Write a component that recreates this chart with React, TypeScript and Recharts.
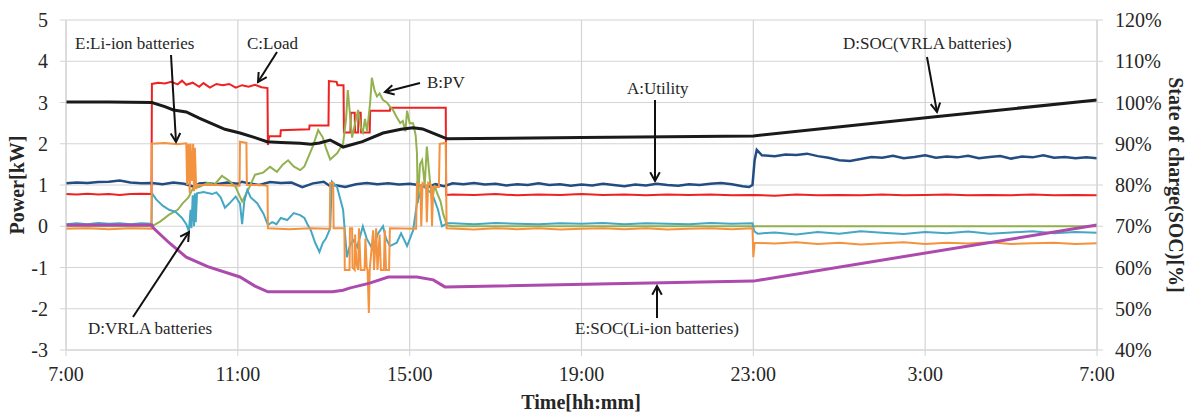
import { CartesianGrid, Line, LineChart, XAxis, YAxis } from "recharts";

// hours after 7:00
const hourTicks = [0, 4, 8, 12, 16, 20, 24];
const hourLabels = ["7:00", "11:00", "15:00", "19:00", "23:00", "3:00", "7:00"];
const powerTicks = [-3, -2, -1, 0, 1, 2, 3, 4, 5];
const socTicks = [40, 50, 60, 70, 80, 90, 100, 110, 120];

// A: Utility [kW]
const utility: [number, number][] = [
  [0, 1.04], [0.25, 1.06], [0.5, 1.05], [0.75, 1.07], [1, 1.08], [1.25, 1.11], [1.5, 1.06], [1.75, 1.04],
  [2, 1.05], [2.25, 1.02], [2.5, 1.06], [2.75, 1.03], [3, 0.95], [3.1, 1.04], [3.25, 1.05], [3.5, 1.02],
  [3.75, 1.06], [4, 1.03], [4.1, 1.08], [4.25, 1.04], [4.5, 1.0], [4.75, 1.07], [5, 1.05], [5.25, 1.06],
  [5.5, 0.95], [5.75, 1.04], [6, 1.08], [6.15, 0.97], [6.25, 1.0], [6.5, 0.95], [6.75, 1.02], [7, 1.05],
  [7.25, 1.02], [7.5, 1.04], [7.75, 1.01], [8, 1.03], [8.2, 1.0], [8.4, 0.94], [8.6, 1.02], [8.8, 0.97],
  [9, 1.04], [9.25, 1.02], [9.5, 1.05], [9.75, 1.01], [10, 1.03], [10.25, 0.99], [10.5, 1.02], [10.75, 1.0],
  [11, 1.04], [11.25, 1.0], [11.5, 1.02], [11.75, 0.98], [12, 1.01], [12.25, 0.99], [12.5, 1.03], [12.75, 1.0],
  [13, 0.97], [13.25, 1.01], [13.5, 0.99], [13.75, 1.03], [14, 1.0], [14.25, 0.98], [14.5, 1.02], [14.75, 1.0],
  [15, 1.03], [15.25, 1.05], [15.5, 1.02], [15.75, 0.97], [15.9, 0.95], [15.98, 1.0], [16.03, 1.6], [16.08, 1.85],
  [16.2, 1.72], [16.5, 1.7], [16.75, 1.74], [17, 1.73], [17.25, 1.76], [17.5, 1.7], [17.75, 1.66], [18, 1.6],
  [18.25, 1.58], [18.5, 1.63], [18.75, 1.68], [19, 1.66], [19.25, 1.71], [19.5, 1.65], [19.75, 1.68], [20, 1.72],
  [20.25, 1.66], [20.5, 1.69], [20.75, 1.67], [21, 1.71], [21.25, 1.65], [21.5, 1.68], [21.75, 1.7], [22, 1.64],
  [22.25, 1.69], [22.5, 1.67], [22.75, 1.72], [23, 1.66], [23.25, 1.68], [23.5, 1.65], [23.75, 1.67], [24, 1.65],
];

// B: PV [kW]
const pv: [number, number][] = [
  [0, 0], [2, 0], [2.2, 0.12], [2.4, 0.28], [2.6, 0.4], [2.72, 0.56], [2.85, 0.7], [2.96, 0.93],
  [3.1, 0.95], [3.3, 1.05], [3.45, 1.0], [3.63, 1.22], [3.8, 1.1], [3.95, 0.95], [4.1, 0.6], [4.25, 0.9],
  [4.4, 1.25], [4.59, 1.3], [4.75, 1.44], [4.91, 1.32], [5.05, 1.5], [5.17, 1.6], [5.3, 1.45], [5.45, 1.36],
  [5.55, 1.45], [5.65, 1.7], [5.75, 1.95], [5.87, 2.33], [5.98, 2.15], [6.05, 1.9], [6.15, 1.62], [6.31, 1.77],
  [6.45, 2.0], [6.52, 2.6], [6.56, 3.3], [6.62, 2.6], [6.66, 2.15], [6.73, 2.5], [6.8, 2.82], [6.86, 2.4],
  [6.91, 2.28], [6.96, 2.6], [7.01, 2.3], [7.08, 3.0], [7.12, 3.6], [7.18, 3.3], [7.24, 3.15], [7.3, 3.22],
  [7.38, 3.06], [7.47, 3.0], [7.54, 2.9], [7.61, 2.82], [7.7, 2.64], [7.78, 2.5], [7.84, 2.55], [7.9, 2.3],
  [7.94, 2.8], [8.0, 2.5], [8.08, 2.5], [8.14, 2.2], [8.17, 1.77], [8.19, 0.56], [8.24, 1.5], [8.29, 1.6],
  [8.35, 1.0], [8.4, 1.93], [8.47, 1.12], [8.52, 0.6], [8.58, 1.0], [8.64, 0.8], [8.72, 0.6], [8.78, 0.3],
  [8.87, 0.02], [9, 0], [24, 0],
];

// C: Load [kW]
const load: [number, number][] = [
  [0, 0.78], [0.25, 0.77], [0.5, 0.79], [0.75, 0.77], [1, 0.78], [1.25, 0.76], [1.5, 0.78], [1.75, 0.79],
  [1.99, 0.78], [2, 3.45], [2.15, 3.48], [2.3, 3.46], [2.45, 3.5], [2.6, 3.44], [2.7, 3.53], [2.8, 3.43],
  [2.95, 3.48], [3.1, 3.38], [3.2, 3.47], [3.35, 3.36], [3.5, 3.45], [3.65, 3.42], [3.8, 3.45], [3.95, 3.36],
  [4.1, 3.42], [4.25, 3.38], [4.4, 3.43], [4.55, 3.37], [4.69, 3.35], [4.7, 1.97], [4.73, 2.18], [4.99, 2.18],
  [5, 2.33], [5.66, 2.35], [5.67, 2.44], [6.11, 2.44], [6.12, 3.52], [6.3, 3.5], [6.32, 3.42], [6.46, 3.42],
  [6.47, 2.27], [6.62, 2.27], [6.63, 2.75], [6.72, 2.75], [6.73, 2.27], [6.8, 2.27], [6.81, 2.75], [6.86, 2.75],
  [6.87, 2.27], [7.07, 2.27], [7.08, 2.8], [7.54, 2.8], [7.55, 2.87], [8.84, 2.87], [8.85, 0.76], [9, 0.77],
  [9.5, 0.76], [10, 0.78], [10.5, 0.75], [11, 0.77], [11.5, 0.76], [12, 0.78], [12.5, 0.76], [13, 0.77],
  [13.5, 0.75], [14, 0.77], [14.5, 0.76], [15, 0.77], [15.5, 0.75], [16, 0.76], [16.5, 0.74], [17, 0.77],
  [17.5, 0.75], [18, 0.76], [18.5, 0.75], [19, 0.77], [19.5, 0.75], [20, 0.76], [20.5, 0.77], [21, 0.75],
  [21.5, 0.76], [22, 0.75], [22.5, 0.77], [23, 0.75], [23.5, 0.76], [24, 0.75],
];

// D: VRLA batteries [kW]
const vrla: [number, number][] = [
  [0, 0.05], [0.25, 0.07], [0.5, 0.05], [0.75, 0.08], [1, 0.06], [1.25, 0.07], [1.5, 0.05], [1.75, 0.07],
  [1.99, 0.06], [2, 0.8], [2.1, 0.65], [2.25, 0.5], [2.4, 0.4], [2.55, 0.35], [2.7, 0.2], [2.8, 0.05],
  [2.86, -0.12], [2.9, 0.4], [2.92, -0.05], [2.95, 0.75], [2.98, 0.0], [3.0, 0.8], [3.02, 0.1], [3.05, 0.8],
  [3.2, 0.83], [3.4, 0.78], [3.5, 0.82], [3.6, 0.7], [3.7, 0.45], [3.8, 0.55], [3.95, 0.72], [4.05, 0.55],
  [4.1, 0.05], [4.15, 0.6], [4.22, 0.88], [4.3, 0.7], [4.45, 0.56], [4.6, 0.3], [4.7, 0.03], [4.8, 0.1],
  [4.9, 0.05], [5.0, 0.2], [5.15, 0.15], [5.3, 0.32], [5.45, 0.27], [5.55, 0.2], [5.62, 0.05], [5.7, -0.1],
  [5.8, -0.4], [5.9, -0.62], [5.98, -0.4], [6.05, -0.3], [6.15, -0.05], [6.19, 1.08], [6.31, 0.95], [6.45, 0.4],
  [6.54, -0.75], [6.6, -0.5], [6.68, -0.33], [6.78, -0.5], [6.91, 0.0], [7.0, -0.3], [7.15, -0.58], [7.25, -0.2],
  [7.38, 0.0], [7.45, -0.3], [7.54, -0.48], [7.7, -0.4], [7.8, -0.17], [7.94, -0.48], [8.08, -0.1], [8.17, 0.56],
  [8.31, 1.0], [8.4, 0.88], [8.52, 0.8], [8.66, 0.4], [8.75, 0.0], [8.88, 0.07], [9, 0.07], [9.5, 0.05],
  [10, 0.08], [10.5, 0.06], [11, 0.05], [11.5, 0.07], [12, 0.06], [12.5, 0.08], [13, 0.05], [13.5, 0.07],
  [14, 0.06], [14.5, 0.05], [15, 0.08], [15.5, 0.06], [15.98, 0.07], [16.02, -0.12], [16.1, -0.18], [16.5, -0.15],
  [17, -0.2], [17.5, -0.14], [18, -0.18], [18.5, -0.12], [19, -0.16], [19.5, -0.19], [20, -0.14], [20.5, -0.17],
  [21, -0.13], [21.5, -0.18], [22, -0.15], [22.5, -0.12], [23, -0.17], [23.5, -0.14], [24, -0.16],
];

// E: Li-ion batteries [kW]
const liion: [number, number][] = [
  [0, -0.06], [0.5, -0.05], [1, -0.07], [1.5, -0.05], [1.99, -0.06], [2, 2.0], [2.3, 2.02], [2.6, 1.99],
  [2.8, 2.01], [2.82, 1.0], [2.85, 2.0], [2.88, 0.8], [2.9, 2.0], [2.93, 1.1], [2.96, 2.0], [2.98, 0.85],
  [3.0, 1.9], [3.03, 0.9], [3.05, 1.0], [3.5, 1.0], [4.0, 0.98], [4.04, 0.98], [4.05, 2.05], [4.2, 2.02],
  [4.21, 1.0], [4.5, 1.0], [4.69, 0.98], [4.7, -0.05], [5.2, -0.07], [5.7, -0.05], [6.14, -0.06], [6.15, 1.05],
  [6.22, 1.05], [6.23, -0.05], [6.48, -0.05], [6.49, -1.06], [6.6, -1.06], [6.61, -0.05], [6.66, -0.05], [6.67, -1.0],
  [6.72, -1.06], [6.73, -0.2], [6.76, -0.9], [6.8, -1.06], [6.82, -0.05], [6.86, -1.06], [6.95, -1.06], [6.97, -0.3],
  [7.0, -1.0], [7.02, -1.06], [7.05, -2.1], [7.07, -1.06], [7.15, -0.1], [7.17, -1.06], [7.22, -0.05], [7.25, -1.06],
  [7.3, -0.2], [7.33, -1.06], [7.4, -1.06], [7.42, -0.1], [7.45, -1.06], [7.52, -1.06], [7.54, -0.05], [8.15, -0.06],
  [8.17, 1.05], [8.25, 1.0], [8.27, 0.0], [8.3, 1.05], [8.38, 1.0], [8.4, 0.1], [8.43, 1.05], [8.5, 1.0],
  [8.52, 0.0], [8.55, 0.95], [8.68, 0.95], [8.7, 2.0], [8.84, 2.02], [8.86, -0.05], [9.5, -0.08], [10, -0.05],
  [10.5, -0.07], [11, -0.05], [11.5, -0.08], [12, -0.06], [12.5, -0.05], [13, -0.07], [13.5, -0.05], [14, -0.08],
  [14.5, -0.06], [15, -0.05], [15.5, -0.07], [15.98, -0.05], [16, -0.75], [16.03, -0.4], [16.5, -0.42], [17, -0.39],
  [17.5, -0.43], [18, -0.4], [18.5, -0.44], [19, -0.41], [19.5, -0.39], [20, -0.43], [20.5, -0.4], [21, -0.42],
  [21.5, -0.39], [22, -0.43], [22.5, -0.41], [23, -0.4], [23.5, -0.43], [24, -0.41],
];

// D: SOC of VRLA batteries [%]
const socVrla: [number, number][] = [
  [0, 100.1], [1, 100.1], [2, 100.0], [2.3, 99.0], [2.5, 98.2], [2.8, 97.7], [3.1, 96.2], [3.3, 95.3],
  [3.7, 93.5], [4.05, 92.6], [4.4, 91.5], [4.68, 90.5], [5.0, 90.3], [5.45, 90.1], [5.7, 89.9], [5.9, 90.2],
  [6.15, 90.9], [6.35, 89.8], [6.45, 89.2], [6.9, 90.5], [7.38, 92.6], [7.8, 93.5], [8.08, 93.9], [8.3, 93.6],
  [8.47, 92.9], [8.7, 91.9], [8.87, 91.2], [12, 91.5], [16, 91.9], [20.18, 96.5], [24, 100.6],
];

// E: SOC of Li-ion batteries [%]
const socLiion: [number, number][] = [
  [0, 70.3], [2, 70.3], [2.03, 69.6], [2.4, 66], [2.8, 62.5], [3.3, 60.2], [4.05, 57.7], [4.4, 55.5],
  [4.7, 54.1], [6.2, 54.1], [6.45, 54.5], [6.6, 55.0], [7.07, 56.2], [7.5, 57.7], [8.17, 57.7], [8.55, 57.0],
  [8.82, 55.3], [16, 56.7], [24, 70.3],
];

const pts = (arr: [number, number][]) => arr.map(([t, v]) => ({ t, v }));

const FONT = "'Liberation Serif', 'Times New Roman', serif";
const GRID = "#d4d4d4";
const TEXT = "#262626";

const tickStyle = { fontFamily: FONT, fontSize: 20, fill: TEXT };

const Arrow = ({ x1, y1, x2, y2 }: { x1: number; y1: number; x2: number; y2: number }) => {
  const a = Math.atan2(y2 - y1, x2 - x1);
  const len = 10;
  const spread = 0.5;
  const h1 = [x2 - len * Math.cos(a - spread), y2 - len * Math.sin(a - spread)];
  const h2 = [x2 - len * Math.cos(a + spread), y2 - len * Math.sin(a + spread)];
  return (
    <g stroke="#111" strokeWidth={2} fill="none">
      <line x1={x1} y1={y1} x2={x2} y2={y2} />
      <polyline points={`${h1[0]},${h1[1]} ${x2},${y2} ${h2[0]},${h2[1]}`} />
    </g>
  );
};

const Note = ({ x, y, text, anchor = "start" }: { x: number; y: number; text: string; anchor?: string }) => (
  <text x={x} y={y} fontFamily={FONT} fontSize={17} fill={TEXT} textAnchor={anchor} dominantBaseline="central">
    {text}
  </text>
);

const Overlay = () => (
  <svg width={1186} height={412} style={{ position: "absolute", left: 0, top: 0, pointerEvents: "none" }}>
    <text
      transform="translate(17,185) rotate(-90)"
      textAnchor="middle"
      dominantBaseline="central"
      fontFamily={FONT}
      fontSize={20}
      fontWeight="bold"
      fill={TEXT}
    >
      Power[kW]
    </text>
    <text
      transform="translate(1176,185) rotate(90)"
      textAnchor="middle"
      dominantBaseline="central"
      fontFamily={FONT}
      fontSize={20}
      fontWeight="bold"
      fill={TEXT}
    >
      State of charge(SOC)[%]
    </text>
    <text x={581} y={402} textAnchor="middle" dominantBaseline="central" fontFamily={FONT} fontSize={20} fontWeight="bold" fill={TEXT}>
      Time[hh:mm]
    </text>

    <Note x={75} y={43} text="E:Li-ion batteries" />
    <Arrow x1={171} y1={55} x2={176} y2={142} />
    <Note x={247} y={43} text="C:Load" />
    <Arrow x1={277} y1={52} x2={258} y2={82} />
    <Note x={427} y={82} text="B:PV" />
    <Arrow x1={420} y1={83} x2={385} y2={92} />
    <Note x={627} y={88} text="A:Utility" />
    <Arrow x1={655} y1={100} x2={655} y2={181} />
    <Note x={843} y={43} text="D:SOC(VRLA batteries)" />
    <Arrow x1={927} y1={57} x2={937} y2={112} />
    <Note x={88} y={328} text="D:VRLA batteries" />
    <Arrow x1={133} y1={317} x2={189} y2={232} />
    <Note x={657} y={328} text="E:SOC(Li-ion batteries)" anchor="middle" />
    <Arrow x1={657} y1={318} x2={657} y2={286} />
  </svg>
);

export default function App() {
  return (
    <div style={{ position: "absolute", left: 0, top: 0, width: 1186, height: 412, background: "#fff" }}>
      <LineChart width={1186} height={412} margin={{ top: 20, right: 0, bottom: 0, left: 0 }}>
        <CartesianGrid stroke={GRID} strokeWidth={1.2} yAxisId="power" />
        <XAxis
          dataKey="t"
          type="number"
          domain={[0, 24]}
          ticks={hourTicks}
          interval={0}
          tickFormatter={(v: number) => hourLabels[hourTicks.indexOf(v)]}
          tick={tickStyle}
          axisLine={{ stroke: GRID }}
          tickLine={{ stroke: GRID }}
          tickSize={6}
          tickMargin={11}
          height={62}
          allowDuplicatedCategory={false}
        />
        <YAxis
          yAxisId="power"
          domain={[-3, 5]}
          ticks={powerTicks}
          interval={0}
          tick={tickStyle}
          axisLine={{ stroke: GRID }}
          tickLine={{ stroke: GRID }}
          tickSize={6}
          tickMargin={12}
          width={66}
        />
        <YAxis
          yAxisId="soc"
          orientation="right"
          domain={[40, 120]}
          ticks={socTicks}
          interval={0}
          tickFormatter={(v: number) => `${v}%`}
          tick={tickStyle}
          axisLine={{ stroke: GRID }}
          tickLine={{ stroke: GRID }}
          tickSize={6}
          tickMargin={12}
          width={89}
        />
        <Line yAxisId="power" data={pts(load)} dataKey="v" name="C:Load" stroke="#ee2222" strokeWidth={2} dot={false} isAnimationActive={false} />
        <Line yAxisId="power" data={pts(utility)} dataKey="v" name="A:Utility" stroke="#234d82" strokeWidth={2.5} dot={false} isAnimationActive={false} />
        <Line yAxisId="power" data={pts(pv)} dataKey="v" name="B:PV" stroke="#93b14f" strokeWidth={2} dot={false} isAnimationActive={false} />
        <Line yAxisId="power" data={pts(vrla)} dataKey="v" name="D:VRLA batteries" stroke="#45a7c4" strokeWidth={2} dot={false} isAnimationActive={false} />
        <Line yAxisId="power" data={pts(liion)} dataKey="v" name="E:Li-ion batteries" stroke="#f39340" strokeWidth={2} dot={false} isAnimationActive={false} />
        <Line yAxisId="soc" data={pts(socVrla)} dataKey="v" name="D:SOC(VRLA batteries)" stroke="#1a1a1a" strokeWidth={3} dot={false} isAnimationActive={false} />
        <Line yAxisId="soc" data={pts(socLiion)} dataKey="v" name="E:SOC(Li-ion batteries)" stroke="#ad4aad" strokeWidth={3} dot={false} isAnimationActive={false} />
      </LineChart>
      <Overlay />
    </div>
  );
}
